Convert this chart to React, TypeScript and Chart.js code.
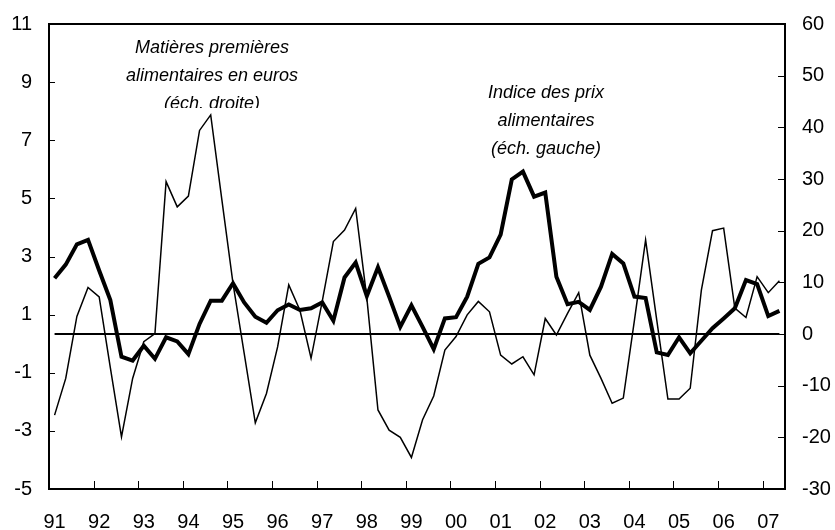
import React, { useEffect, useRef } from "react";
import { Chart, registerables } from "chart.js";

Chart.register(...registerables);

// Year tick labels (one per year, shown on the first quarter)
const yearLabels: string[] = ["91", "92", "93", "94", "95", "96", "97", "98", "99", "00", "01", "02", "03", "04", "05", "06", "07"];
const quartersInLastYear = 2;

// Indice des prix alimentaires (left scale), quarterly 1991Q1-2007Q2
const foodPriceIndex: number[] = [
  2.25, 2.72, 3.42, 3.57, 2.52, 1.5, -0.45, -0.58, -0.07, -0.52,
  0.22, 0.08, -0.36, 0.68, 1.48, 1.48, 2.08, 1.42, 0.93, 0.72,
  1.15, 1.35, 1.16, 1.22, 1.42, 0.79, 2.28, 2.79, 1.64, 2.63,
  1.62, 0.58, 1.32, 0.58, -0.19, 0.87, 0.91, 1.62, 2.75, 2.97,
  3.75, 5.65, 5.92, 5.06, 5.2, 2.3, 1.36, 1.44, 1.16, 1.96,
  3.09, 2.76, 1.62, 1.57, -0.3, -0.39, 0.22, -0.33, 0.1, 0.53,
  0.87, 1.22, 2.19, 2.05, 0.95, 1.13,
];

// Matières premières alimentaires en euros (right scale)
const rawFoodEuro: number[] = [
  -15.7, -8.6, 3.4, 9.0, 7.2, -6.5, -19.9, -8.6, -1.5, 0.1,
  29.5, 24.6, 26.7, 39.4, 42.4, 26, 9.8, -3.7, -17.2, -11.5,
  -2.5, 9.5, 4.6, -4.7, 6.3, 17.9, 20.1, 24.3, 7, -14.7,
  -18.6, -20.0, -23.9, -16.6, -12.0, -3.1, -0.5, 3.7, 6.3, 4.3,
  -4.1, -5.8, -4.4, -7.9, 3.0, -0.2, 4.0, 8.0, -4.1, -8.6,
  -13.4, -12.4, 2.7, 18.2, 2.7, -12.6, -12.6, -10.5, 8.5, 20.0,
  20.5, 5.0, 3.2, 11.1, 8.0, 10.3,
];

const leftAnnotation: string[] = ["Matières premières", "alimentaires en euros", "(éch. droite)"];
const rightAnnotation: string[] = ["Indice des prix", "alimentaires", "(éch. gauche)"];

const FONT = '"Liberation Sans", Arial, sans-serif';

export default function App() {
  const ref = useRef<HTMLCanvasElement | null>(null);

  useEffect(() => {
    const canvas = ref.current;
    if (!canvas) return;

    const categories: string[] = [];
    yearLabels.forEach((y, yi) => {
      const n = yi === yearLabels.length - 1 ? quartersInLastYear : 4;
      for (let q = 1; q <= n; q++) categories.push(y + "T" + q);
    });
    const zeroLine = categories.map(() => 0);

    const framePlugin = {
      id: "frame",
      afterDatasetsDraw(chart: any) {
        const { ctx, chartArea } = chart;
        const { left, right, top, bottom } = chartArea;
        const x = chart.scales.x;
        const yL = chart.scales.yL;
        const yR = chart.scales.yR;
        ctx.save();
        ctx.strokeStyle = "#000";
        ctx.lineWidth = 1;
        ctx.beginPath();
        yL.ticks.forEach((t: any) => {
          const py = Math.round(yL.getPixelForValue(t.value)) + 0.5;
          ctx.moveTo(left, py);
          ctx.lineTo(left + 6, py);
        });
        yR.ticks.forEach((t: any) => {
          const py = Math.round(yR.getPixelForValue(t.value)) + 0.5;
          ctx.moveTo(right - 7, py);
          ctx.lineTo(right, py);
        });
        for (let i = 4; i < categories.length; i += 4) {
          const px = Math.round((x.getPixelForValue(i) + x.getPixelForValue(i - 1)) / 2) + 0.5;
          ctx.moveTo(px, bottom);
          ctx.lineTo(px, bottom - 8);
        }
        ctx.stroke();
        ctx.lineWidth = 2;
        ctx.strokeRect(left, top, right - left, bottom - top);
        ctx.restore();
      },
      afterDraw(chart: any) {
        const { ctx } = chart;
        ctx.save();
        ctx.fillStyle = "#000";
        ctx.font = "italic 18px " + FONT;
        ctx.textAlign = "center";
        ctx.textBaseline = "alphabetic";
        ctx.fillText(leftAnnotation[0], 212, 53);
        ctx.fillText(leftAnnotation[1], 212, 81);
        ctx.save();
        ctx.beginPath();
        ctx.rect(0, 0, 835, 108);
        ctx.clip();
        ctx.fillText(leftAnnotation[2], 212, 109);
        ctx.restore();
        ctx.fillText(rightAnnotation[0], 546, 98);
        ctx.fillText(rightAnnotation[1], 546, 126);
        ctx.fillText(rightAnnotation[2], 546, 154);
        ctx.restore();
      },
    };

    const fixVertical = (w: number) => (s: any) => {
      s.width = w;
      s.paddingTop = 0;
      s.paddingBottom = 0;
    };

    const chart = new Chart(canvas, {
      type: "line",
      data: {
        labels: categories,
        datasets: [
          {
            label: "Matières premières alimentaires en euros",
            data: rawFoodEuro,
            yAxisID: "yR",
            borderColor: "#000",
            borderWidth: 1.5,
            pointRadius: 0,
            tension: 0,
            fill: false,
          },
          {
            label: "Indice des prix alimentaires",
            data: foodPriceIndex,
            yAxisID: "yL",
            borderColor: "#000",
            borderWidth: 4,
            pointRadius: 0,
            tension: 0,
            fill: false,
          },
          {
            label: "zero",
            data: zeroLine,
            yAxisID: "yR",
            borderColor: "#000",
            borderWidth: 2,
            pointRadius: 0,
            tension: 0,
            fill: false,
          },
        ],
      },
      options: {
        responsive: false,
        animation: false,
        devicePixelRatio: 1,
        layout: { padding: { top: 24, left: 0, right: 0, bottom: 0 } },
        plugins: { legend: { display: false }, tooltip: { enabled: false } },
        scales: {
          x: {
            type: "category",
            offset: true,
            grid: { display: false, drawTicks: false },
            border: { display: false },
            ticks: {
              autoSkip: false,
              maxRotation: 0,
              minRotation: 0,
              padding: 21,
              color: "#000",
              font: { family: FONT, size: 20 },
              callback: (_v: any, idx: number) => (idx % 4 === 0 ? yearLabels[idx / 4] : null),
            },
            afterFit: (s: any) => {
              s.height = 41;
              s.paddingLeft = 0;
              s.paddingRight = 0;
            },
          },
          yL: {
            position: "left",
            min: -5,
            max: 11,
            grid: { display: false, drawTicks: false },
            border: { display: false },
            ticks: {
              stepSize: 2,
              padding: 17,
              color: "#000",
              font: { family: FONT, size: 20 },
            },
            afterFit: fixVertical(49),
          },
          yR: {
            position: "right",
            min: -30,
            max: 60,
            grid: { display: false, drawTicks: false },
            border: { display: false },
            ticks: {
              stepSize: 10,
              padding: 17,
              color: "#000",
              font: { family: FONT, size: 20 },
            },
            afterFit: fixVertical(50),
          },
        },
      },
      plugins: [framePlugin],
    } as any);

    return () => chart.destroy();
  }, []);

  return (
    <div style={{ position: "fixed", left: 0, top: 0, width: 835, height: 530, background: "#fff" }}>
      <canvas ref={ref} width={835} height={530} style={{ display: "block" }} />
    </div>
  );
}
